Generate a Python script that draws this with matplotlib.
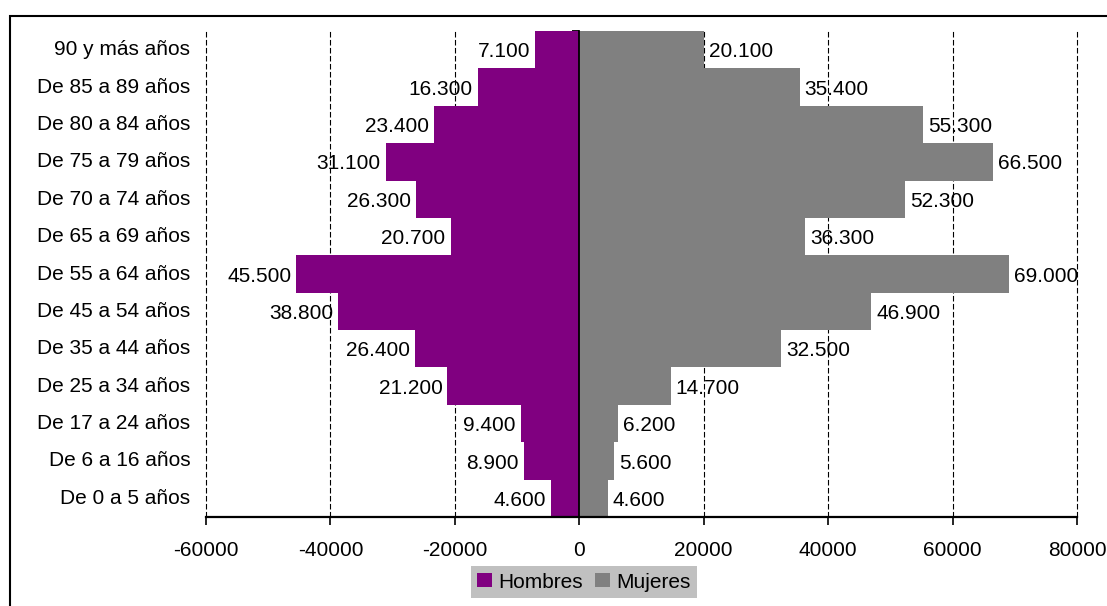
import matplotlib
matplotlib.use("Agg")
import matplotlib.pyplot as plt
import matplotlib.patches as mpatches
from matplotlib.ticker import FuncFormatter, FixedLocator
from matplotlib.transforms import blended_transform_factory
import numpy as np

plt.rcParams['font.family'] = ['Liberation Sans', 'DejaVu Sans']
plt.rcParams['axes.unicode_minus'] = False

# Data (bottom to top)
categorias = ["De 0 a 5 años", "De 6 a 16 años", "De 17 a 24 años", "De 25 a 34 años",
              "De 35 a 44 años", "De 45 a 54 años", "De 55 a 64 años", "De 65 a 69 años",
              "De 70 a 74 años", "De 75 a 79 años", "De 80 a 84 años", "De 85 a 89 años",
              "90 y más años"]
hombres = [4600, 8900, 9400, 21200, 26400, 38800, 45500, 20700, 26300, 31100, 23400, 16300, 7100]
mujeres = [4600, 5600, 6200, 14700, 32500, 46900, 69000, 36300, 52300, 66500, 55300, 35400, 20100]
x_ticks = [-60000, -40000, -20000, 0, 20000, 40000, 60000, 80000]

W, H = 1107, 606
fig = plt.figure(figsize=(W / 100, H / 100), dpi=100)
ax = fig.add_axes([206 / W, 1 - 517 / H, 871 / W, 486 / H])

FS = 15
PURPLE = '#800080'
GREY = '#808080'

y = np.arange(len(categorias))
ax.barh(y, [-v for v in hombres], height=1.0, color=PURPLE, label='Hombres', zorder=2)
ax.barh(y, mujeres, height=1.0, color=GREY, label='Mujeres', zorder=2)

ax.set_xlim(x_ticks[0], x_ticks[-1])
ax.set_ylim(-0.5, len(categorias) - 0.5)

# vertical dashed gridlines
for xv in x_ticks:
    if xv == 0:
        continue
    ax.axvline(xv, color='black', lw=0.8, linestyle=(0, (5, 2.2)), zorder=1, clip_on=False)

# spines
ax.spines['top'].set_visible(False)
ax.spines['right'].set_visible(False)
ax.spines['bottom'].set_linewidth(1.6)
ax.spines['left'].set_position(('data', 0))
ax.spines['left'].set_linewidth(1.3)
ax.spines['left'].set_zorder(3)

# x axis
ax.xaxis.set_major_locator(FixedLocator(x_ticks))
ax.xaxis.set_major_formatter(FuncFormatter(lambda v, p: f"{int(v)}"))
ax.tick_params(axis='x', direction='out', length=6, width=1.2, pad=11, labelsize=FS, colors='black')

# y axis ticks at 0 (boundaries major pointing left, centers minor pointing right)
ax.yaxis.set_major_locator(FixedLocator(np.arange(-0.5, len(categorias), 1.0)))
ax.yaxis.set_minor_locator(FixedLocator(y))
ax.tick_params(axis='y', which='major', direction='out', length=5, width=1.3, labelleft=False)
ax.tick_params(axis='y', which='minor', direction='in', length=3.8, width=1.3, labelleft=False)

# category labels at left edge
trans = blended_transform_factory(ax.transAxes, ax.transData)
for yi, cat in zip(y, categorias):
    ax.text(-0.018, yi, cat, transform=trans, ha='right', va='center', fontsize=FS)

def fmt(v):
    return f"{v:,}".replace(',', '.')

for yi, h, m in zip(y, hombres, mujeres):
    ax.annotate(fmt(h), xy=(-h, yi), xytext=(-3.6, -1.5), textcoords='offset points',
                ha='right', va='center', fontsize=FS, zorder=4)
    ax.annotate(fmt(m), xy=(m, yi), xytext=(3.6, -1.5), textcoords='offset points',
                ha='left', va='center', fontsize=FS, zorder=4)

leg = fig.legend(loc='center', bbox_to_anchor=(584 / W, 1 - 582 / H), ncol=2, fontsize=FS,
                 frameon=True, fancybox=False, facecolor='#C0C0C0', edgecolor='none', framealpha=1,
                 handlelength=0.72, handleheight=0.63, handletextpad=0.29, columnspacing=0.58,
                 borderpad=0.3, borderaxespad=0)

# outer frame
fig.patches.append(mpatches.Rectangle((10 / W, -0.5), 2.0, (1 - 16 / H) + 0.5,
                                      transform=fig.transFigure, fill=False,
                                      edgecolor='black', lw=1.5))

fig.savefig('out.png', dpi=100)
